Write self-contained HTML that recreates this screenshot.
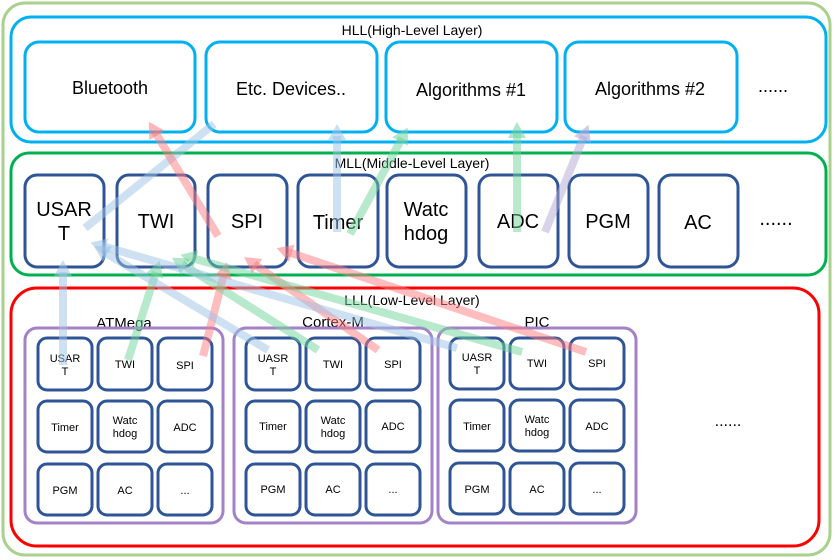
<!DOCTYPE html>
<html><head><meta charset="utf-8"><style>
html,body{margin:0;padding:0;background:#fff;}
svg{display:block;font-family:"Liberation Sans","Noto Sans CJK KR",sans-serif;}
</style></head><body>
<svg width="835" height="560" viewBox="0 0 835 560" xmlns="http://www.w3.org/2000/svg">
<defs>
<marker id="ab" markerUnits="userSpaceOnUse" markerWidth="16" markerHeight="18" refX="4" refY="9" orient="auto"><path d="M0,0 L16,9 L0,18 z" fill="#9dc3e6" fill-opacity="0.55"/></marker>
<marker id="ar" markerUnits="userSpaceOnUse" markerWidth="16" markerHeight="18" refX="4" refY="9" orient="auto"><path d="M0,0 L16,9 L0,18 z" fill="#ff7c80" fill-opacity="0.55"/></marker>
<marker id="ag" markerUnits="userSpaceOnUse" markerWidth="16" markerHeight="18" refX="4" refY="9" orient="auto"><path d="M0,0 L16,9 L0,18 z" fill="#70d39a" fill-opacity="0.55"/></marker>
<marker id="ap" markerUnits="userSpaceOnUse" markerWidth="16" markerHeight="18" refX="4" refY="9" orient="auto"><path d="M0,0 L16,9 L0,18 z" fill="#b4a7d6" fill-opacity="0.6"/></marker>
</defs>
<rect x="3" y="3" width="827" height="552" rx="22" fill="#fff" stroke="#a9d08e" stroke-width="3"/>
<!-- HLL -->
<rect x="11" y="17" width="815" height="125" rx="20" fill="none" stroke="#00b0f0" stroke-width="3"/>
<text x="412" y="35" font-size="14" text-anchor="middle">HLL(High-Level Layer)</text>
<g fill="#fff" stroke="#00b0f0" stroke-width="3">
<rect x="25" y="42" width="170" height="90" rx="14"/>
<rect x="206" y="42" width="171" height="90" rx="14"/>
<rect x="386" y="42" width="171" height="90" rx="14"/>
<rect x="565" y="42" width="172" height="90" rx="14"/>
</g>
<g font-size="18" text-anchor="middle">
<text x="110" y="94">Bluetooth</text>
<text x="291" y="95">Etc. Devices..</text>
<text x="471" y="96">Algorithms #1</text>
<text x="650" y="95">Algorithms #2</text>
<text x="773" y="92">......</text>
</g>
<!-- MLL -->
<rect x="11" y="153" width="815" height="122" rx="18" fill="none" stroke="#00b050" stroke-width="3"/>
<text x="412" y="168" font-size="14" text-anchor="middle">MLL(Middle-Level Layer)</text>
<g fill="#fff" stroke="#2f5597" stroke-width="3">
<rect x="25" y="175" width="79" height="92" rx="12"/>
<rect x="117" y="175" width="78" height="92" rx="12"/>
<rect x="208" y="175" width="79" height="92" rx="12"/>
<rect x="298" y="175" width="80" height="92" rx="12"/>
<rect x="387" y="175" width="79" height="92" rx="12"/>
<rect x="479" y="175" width="79" height="92" rx="12"/>
<rect x="569" y="175" width="79" height="92" rx="12"/>
<rect x="659" y="175" width="79" height="92" rx="12"/>
</g>
<g font-size="20" text-anchor="middle">
<text x="64" y="216">USAR</text><text x="64" y="240">T</text>
<text x="156" y="228">TWI</text>
<text x="247" y="228">SPI</text>
<text x="338" y="229">Timer</text>
<text x="426" y="216">Watc</text><text x="426" y="240">hdog</text>
<text x="518" y="228">ADC</text>
<text x="608" y="228">PGM</text>
<text x="698" y="229">AC</text>
<text x="776" y="225">......</text>
</g>
<!-- LLL -->
<rect x="11" y="288" width="808" height="258" rx="26" fill="none" stroke="#ff0000" stroke-width="3"/>
<text x="412" y="305" font-size="14" text-anchor="middle">LLL(Low-Level Layer)</text>
<g font-size="15" text-anchor="middle">
<text x="124" y="328">ATMega</text>
<text x="333" y="327">Cortex-M</text>
<text x="537" y="327">PIC</text>
</g>
<g fill="none" stroke="#a382c8" stroke-width="3">
<rect x="25" y="328" width="198" height="195" rx="12"/>
<rect x="234" y="328" width="198" height="195" rx="12"/>
<rect x="438" y="328" width="198" height="195" rx="12"/>
</g>
<g fill="#fff" stroke="#2f5597" stroke-width="3">
<rect x="38" y="338" width="54" height="52" rx="9"/><rect x="98" y="338" width="54" height="52" rx="9"/><rect x="158" y="338" width="54" height="52" rx="9"/>
<rect x="38" y="401" width="54" height="51" rx="9"/><rect x="98" y="401" width="54" height="51" rx="9"/><rect x="158" y="401" width="54" height="51" rx="9"/>
<rect x="38" y="464" width="54" height="51" rx="9"/><rect x="98" y="464" width="54" height="51" rx="9"/><rect x="158" y="464" width="54" height="51" rx="9"/>
<rect x="246" y="338" width="54" height="52" rx="9"/><rect x="306" y="338" width="54" height="52" rx="9"/><rect x="366" y="338" width="54" height="52" rx="9"/>
<rect x="246" y="401" width="54" height="51" rx="9"/><rect x="306" y="401" width="54" height="51" rx="9"/><rect x="366" y="401" width="54" height="51" rx="9"/>
<rect x="246" y="464" width="54" height="51" rx="9"/><rect x="306" y="464" width="54" height="51" rx="9"/><rect x="366" y="464" width="54" height="51" rx="9"/>
<rect x="450" y="338" width="54" height="51" rx="9"/><rect x="510" y="338" width="54" height="51" rx="9"/><rect x="570" y="338" width="54" height="51" rx="9"/>
<rect x="450" y="400" width="54" height="51" rx="9"/><rect x="510" y="400" width="54" height="51" rx="9"/><rect x="570" y="400" width="54" height="51" rx="9"/>
<rect x="450" y="463" width="54" height="51" rx="9"/><rect x="510" y="463" width="54" height="51" rx="9"/><rect x="570" y="463" width="54" height="51" rx="9"/>
</g>
<g font-size="11" text-anchor="middle">
<text x="65" y="362">USAR</text><text x="65" y="375">T</text>
<text x="125" y="368">TWI</text><text x="185" y="369">SPI</text>
<text x="65" y="431">Timer</text><text x="125" y="424">Watc</text><text x="125" y="437">hdog</text><text x="185" y="431">ADC</text>
<text x="65" y="494">PGM</text><text x="125" y="494">AC</text><text x="185" y="494">...</text>
<text x="273" y="362">UASR</text><text x="273" y="375">T</text>
<text x="333" y="368">TWI</text><text x="393" y="368">SPI</text>
<text x="273" y="430">Timer</text><text x="333" y="424">Watc</text><text x="333" y="437">hdog</text><text x="393" y="430">ADC</text>
<text x="273" y="493">PGM</text><text x="333" y="493">AC</text><text x="393" y="493">...</text>
<text x="477" y="361">UASR</text><text x="477" y="374">T</text>
<text x="537" y="367">TWI</text><text x="597" y="367">SPI</text>
<text x="477" y="430">Timer</text><text x="537" y="423">Watc</text><text x="537" y="436">hdog</text><text x="597" y="430">ADC</text>
<text x="477" y="493">PGM</text><text x="537" y="493">AC</text><text x="597" y="493">...</text>
<text x="728" y="426" font-size="16">......</text>
</g>
<!-- arrows -->
<g stroke-width="8" stroke-opacity="0.5" fill="none" stroke-linecap="butt">
<line x1="85" y1="228" x2="214" y2="124" stroke="#9dc3e6"/>
<line x1="218" y1="236" x2="155" y2="132" stroke="#ff7c80" marker-end="url(#ar)"/>
<line x1="337" y1="232" x2="337" y2="136" stroke="#9dc3e6" marker-end="url(#ab)"/>
<line x1="350" y1="234" x2="402" y2="138" stroke="#70d39a" marker-end="url(#ag)"/>
<line x1="517" y1="232" x2="517" y2="134" stroke="#70d39a" marker-end="url(#ag)"/>
<line x1="545" y1="232" x2="584" y2="136" stroke="#b4a7d6" marker-end="url(#ap)"/>
<line x1="63" y1="365" x2="63" y2="272" stroke="#9dc3e6" marker-end="url(#ab)"/>
<line x1="128" y1="360" x2="156" y2="272" stroke="#70d39a" marker-end="url(#ag)"/>
<line x1="203" y1="356" x2="224" y2="274" stroke="#ff7c80" marker-end="url(#ar)"/>
<line x1="268" y1="350" x2="104" y2="252" stroke="#9dc3e6" marker-end="url(#ab)"/>
<line x1="318" y1="350" x2="182" y2="264" stroke="#70d39a" marker-end="url(#ag)"/>
<line x1="378" y1="350" x2="254" y2="264" stroke="#ff7c80" marker-end="url(#ar)"/>
<line x1="457" y1="348" x2="102" y2="246" stroke="#9dc3e6" marker-end="url(#ab)"/>
<line x1="522" y1="352" x2="192" y2="258" stroke="#70d39a" marker-end="url(#ag)"/>
<line x1="586" y1="352" x2="288" y2="252" stroke="#ff7c80" marker-end="url(#ar)"/>
</g>
</svg>
</body></html>
